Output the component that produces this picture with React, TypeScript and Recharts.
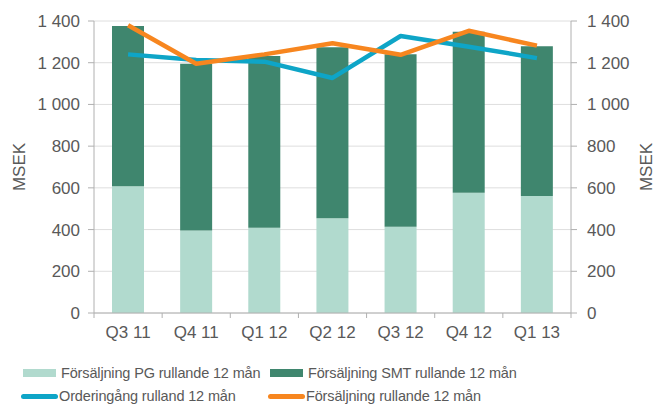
import React from "react";
import {
  ComposedChart,
  Bar,
  Line,
  XAxis,
  YAxis,
  CartesianGrid,
} from "recharts";

const quarters = ["Q3 11", "Q4 11", "Q1 12", "Q2 12", "Q3 12", "Q4 12", "Q1 13"];
const pgSales = [608, 396, 409, 454, 414, 577, 561];
const smtSales = [768, 799, 823, 820, 826, 772, 718];
const orderIntake = [1240, 1213, 1205, 1127, 1328, 1277, 1222];
const totalSales = [1380, 1195, 1240, 1293, 1238, 1353, 1282];
const yTicks = [0, 200, 400, 600, 800, 1000, 1200, 1400];

const data = quarters.map((q, i) => ({
  name: q,
  pg: pgSales[i],
  smt: smtSales[i],
  order: orderIntake[i],
  sales: totalSales[i],
}));

const FONT = "'Liberation Sans', Arial, sans-serif";
const TEXT = "#595959";
const AXIS = "#b0b0b0";

const COL_PG = "#b1dace";
const COL_SMT = "#3f866e";
const COL_ORDER = "#0ea5c7";
const COL_SALES = "#f7861f";

// 1400 -> "1 400"
const fmt = (v: number) =>
  v >= 1000 ? `${Math.floor(v / 1000)} ${String(v % 1000).padStart(3, "0")}` : `${v}`;

// x tick: label centered, small tick marks at category boundaries
const QuarterTick = (props: any) => {
  const { x, y, payload, index, width, visibleTicksCount } = props;
  const half = (width || 477) / (visibleTicksCount || quarters.length) / 2;
  const last = index === quarters.length - 1;
  return (
    <g>
      <line x1={x - half} y1={y} x2={x - half} y2={y + 5} stroke={AXIS} />
      {last && <line x1={x + half} y1={y} x2={x + half} y2={y + 5} stroke={AXIS} />}
      <text x={x} y={y + 25} textAnchor="middle" fill={TEXT} fontSize={17} fontFamily={FONT}>
        {payload.value}
      </text>
    </g>
  );
};

// rotated "MSEK" title, placed from the axis line outward
const axisLabel = (side: "left" | "right") => (props: any) => {
  const vb = props.viewBox || {};
  const cx = side === "left" ? vb.x + vb.width - 75 : vb.x + 75.5;
  const cy = vb.y + vb.height / 2;
  return (
    <text
      x={cx}
      y={cy}
      transform={`rotate(-90 ${cx} ${cy})`}
      textAnchor="middle"
      dominantBaseline="central"
      fill={TEXT}
      fontSize={17}
      fontFamily={FONT}
    >
      MSEK
    </text>
  );
};

const legendItems = [
  { label: "Försäljning PG rullande 12 mån", color: COL_PG, kind: "box", left: 23, top: 373 },
  { label: "Försäljning SMT rullande 12 mån", color: COL_SMT, kind: "box", left: 270, top: 373 },
  { label: "Orderingång rulland 12 mån", color: COL_ORDER, kind: "line", left: 21, top: 396 },
  { label: "Försäljning rullande 12 mån", color: COL_SALES, kind: "line", left: 268, top: 396 },
];

const ChartLegend = () => (
  <>
    {legendItems.map((it) => (
      <div
        key={it.label}
        style={{
          position: "absolute",
          left: it.left,
          top: it.top - 9,
          height: 18,
          display: "flex",
          alignItems: "center",
          fontFamily: FONT,
          fontSize: 14.5,
          color: TEXT,
          whiteSpace: "nowrap",
          letterSpacing: -0.15,
        }}
      >
        {it.kind === "box" ? (
          <span style={{ width: 33, height: 8, background: it.color, marginRight: 5 }} />
        ) : (
          <span
            style={{ width: 37, height: 5, borderRadius: 3, background: it.color, marginRight: 1 }}
          />
        )}
        <span>{it.label}</span>
      </div>
    ))}
  </>
);

export default function App() {
  return (
    <div
      style={{
        position: "absolute",
        left: 0,
        top: 0,
        width: 656,
        height: 414,
        overflow: "hidden",
        background: "#fff",
      }}
    >
      <ComposedChart
        width={656}
        height={414}
        data={data}
        margin={{ top: 21, right: 25, left: 34, bottom: 71 }}
      >
        <CartesianGrid vertical={false} stroke="#dedede" yAxisId="left" />
        <XAxis
          dataKey="name"
          stroke={AXIS}
          tickLine={false}
          tickSize={0}
          tickMargin={0}
          height={30}
          interval={0}
          tick={<QuarterTick />}
        />
        <YAxis
          yAxisId="left"
          domain={[0, 1400]}
          ticks={yTicks}
          interval={0}
          width={60}
          stroke={AXIS}
          tickSize={6}
          tickMargin={8}
          tickFormatter={fmt}
          tick={{ fill: TEXT, fontSize: 17, fontFamily: FONT }}
          label={{ content: axisLabel("left") }}
        />
        <YAxis
          yAxisId="right"
          orientation="right"
          domain={[0, 1400]}
          ticks={yTicks}
          interval={0}
          width={60}
          stroke={AXIS}
          tickSize={6}
          tickMargin={10}
          tickFormatter={fmt}
          tick={{ fill: TEXT, fontSize: 17, fontFamily: FONT, textAnchor: "start" }}
          label={{ content: axisLabel("right") }}
        />
        <Bar yAxisId="left" dataKey="pg" stackId="s" fill={COL_PG} barSize={32} isAnimationActive={false} />
        <Bar yAxisId="left" dataKey="smt" stackId="s" fill={COL_SMT} barSize={32} isAnimationActive={false} />
        <Line
          yAxisId="left"
          dataKey="order"
          stroke={COL_ORDER}
          strokeWidth={4.5}
          dot={false}
          activeDot={false}
          strokeLinejoin="round"
          isAnimationActive={false}
        />
        <Line
          yAxisId="right"
          dataKey="sales"
          stroke={COL_SALES}
          strokeWidth={4.5}
          dot={false}
          activeDot={false}
          strokeLinejoin="round"
          isAnimationActive={false}
        />
      </ComposedChart>
      <ChartLegend />
    </div>
  );
}
